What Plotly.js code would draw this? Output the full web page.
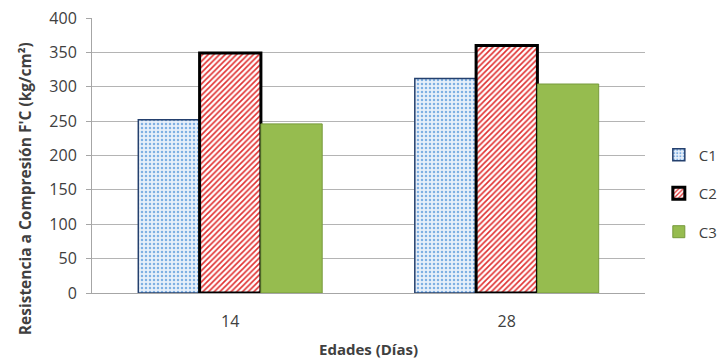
<!DOCTYPE html>
<html>
<head>
<meta charset="utf-8">
<script src="https://cdn.plot.ly/plotly-3.0.1.min.js"></script>
<style>
  html, body { margin: 0; padding: 0; background: #ffffff; }
  #chart { width: 718px; height: 363px; }
</style>
</head>
<body>
<div id="chart"></div>
<script>
// Ages (days) at which the specimens were tested
const edades = ['14', '28'];

// Compressive strength F'c (kg/cm²) for each mix
const c1 = [252, 312];
const c2 = [349, 360];
const c3 = [246, 304];

const yTicks = [0, 50, 100, 150, 200, 250, 300, 350, 400];

const font = '"Open Sans", "Noto Sans", "DejaVu Sans", sans-serif';
const ink = '#404040';

const traces = [
  {
    type: 'bar', name: 'C1', x: edades, y: c1, legendgroup: 'g1',
    marker: {
      color: '#e6eff9',
      pattern: { shape: '.', fgcolor: '#7fb0e3', bgcolor: '#e8f0fa', size: 4, solidity: 0.3 },
      line: { color: '#24406e', width: 1.5 }
    }
  },
  {
    type: 'bar', name: 'C2', x: edades, y: c2, legendgroup: 'g2',
    marker: {
      color: '#ffffff',
      pattern: { shape: '/', fgcolor: '#e03030', bgcolor: '#ffffff', size: 4, solidity: 0.4 },
      line: { color: '#000000', width: 3 }
    }
  },
  {
    type: 'bar', name: 'C3', x: edades, y: c3, legendgroup: 'g3',
    marker: {
      color: '#96bc4f',
      line: { color: '#779a3c', width: 1 }
    }
  }
];

const layout = {
  width: 718, height: 363,
  margin: { l: 92, r: 73, t: 18, b: 70, autoexpand: false },
  paper_bgcolor: '#ffffff', plot_bgcolor: '#ffffff',
  font: { family: font, size: 15, color: ink },
  barmode: 'group',
  bargap: 0.335,
  bargroupgap: 0,
  showlegend: true,
  legend: {
    x: 1.025, xanchor: 'left', y: 0.362, yanchor: 'middle',
    font: { family: font, size: 15, color: ink },
    tracegroupgap: 16,
    bgcolor: 'rgba(0,0,0,0)'
  },
  xaxis: {
    type: 'category',
    showline: true, linecolor: '#a6a6a6', linewidth: 1,
    ticks: '', ticklen: 0,
    ticklabelstandoff: 14,
    tickfont: { family: font, size: 16, color: ink },
    title: { text: '<b>Edades (Días)</b>', font: { family: font, size: 15, color: ink }, standoff: 13 }
  },
  yaxis: {
    range: [0, 400],
    tickvals: yTicks,
    ticktext: yTicks.map(String),
    showgrid: true, gridcolor: '#b4b4b4', gridwidth: 1,
    showline: true, linecolor: '#a6a6a6', linewidth: 1,
    ticks: 'outside', ticklen: 5, tickcolor: '#a6a6a6',
    ticklabelstandoff: 6,
    zeroline: false,
    tickfont: { family: font, size: 16, color: ink }
  },
  annotations: [
    {
      text: '<b>Resistencia a Compresión F\'C (kg/cm²)</b>',
      xref: 'paper', yref: 'paper',
      x: -0.121, y: 0.378, xanchor: 'center', yanchor: 'middle',
      textangle: -90, showarrow: false,
      font: { family: font, size: 15.5, color: ink }
    }
  ]
};

Plotly.newPlot('chart', traces, layout, { displayModeBar: false, staticPlot: true });
</script>
</body>
</html>
